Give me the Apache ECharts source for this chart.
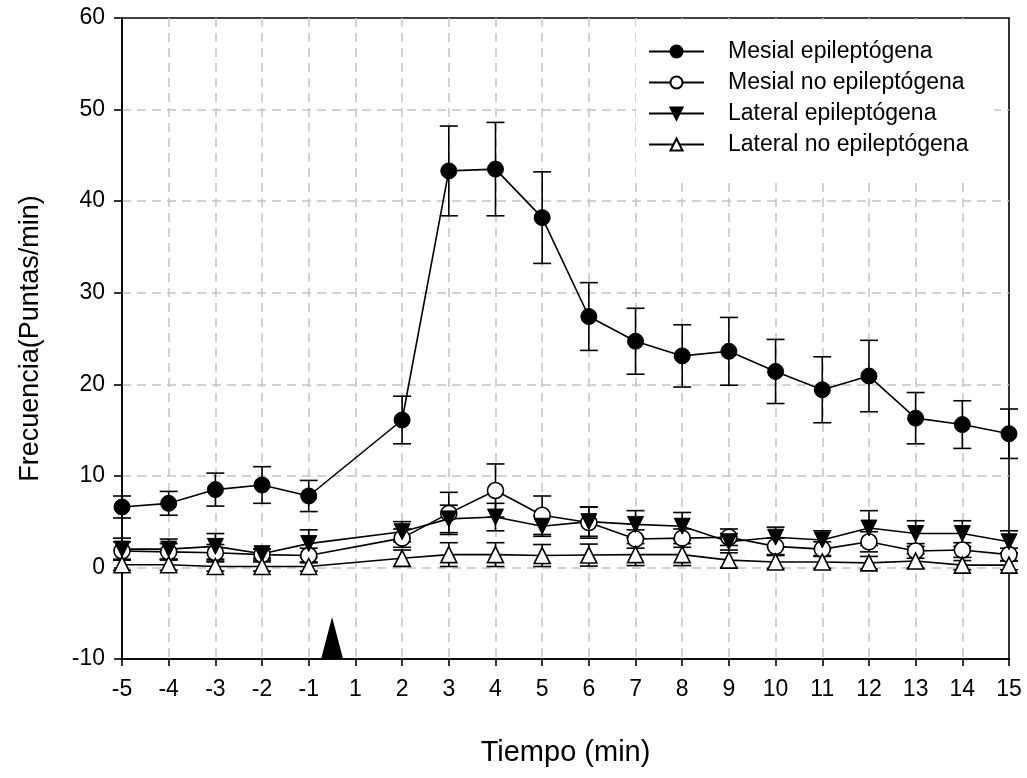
<!DOCTYPE html>
<html>
<head>
<meta charset="utf-8">
<script src="https://cdn.jsdelivr.net/npm/echarts@6/dist/echarts.min.js"></script>
<style>
html,body{margin:0;padding:0;background:#fff;}
#chart{width:1027px;height:778px;}
</style>
</head>
<body>
<div id="chart"></div>
<script>
// Axis tick labels (categorical time, note there is no 0)
const tickLabels = ['-5','-4','-3','-2','-1','1','2','3','4','5','6','7','8','9','10','11','12','13','14','15'];
// Time points with data (no sample at "1")
const times = ['-5','-4','-3','-2','-1','2','3','4','5','6','7','8','9','10','11','12','13','14','15'];
const yTicks = [-10, 0, 10, 20, 30, 40, 50, 60];

const mesialEpi    = [6.6, 7.0, 8.5, 9.0, 7.8, 16.1, 43.3, 43.5, 38.2, 27.4, 24.7, 23.1, 23.6, 21.4, 19.4, 20.9, 16.3, 15.6, 14.6];
const mesialEpiErr = [1.2, 1.3, 1.8, 2.0, 1.7, 2.6, 4.9, 5.1, 5.0, 3.7, 3.6, 3.4, 3.7, 3.5, 3.6, 3.9, 2.8, 2.6, 2.7];

const mesialNo     = [1.8, 1.7, 1.6, 1.4, 1.3, 3.2, 5.9, 8.4, 5.7, 4.9, 3.1, 3.2, 3.3, 2.3, 2.0, 2.8, 1.8, 1.9, 1.4];
const mesialNoErr  = [1.0, 0.9, 0.9, 0.6, 0.8, 1.0, 2.3, 2.9, 2.1, 1.7, 1.0, 1.0, 0.9, 0.9, 0.8, 1.1, 0.8, 0.8, 0.7];

const lateralEpi    = [2.0, 2.0, 2.3, 1.5, 2.6, 3.9, 5.3, 5.5, 4.5, 5.0, 4.7, 4.5, 2.8, 3.3, 3.0, 4.3, 3.7, 3.7, 2.8];
const lateralEpiErr = [1.2, 1.1, 1.4, 0.5, 1.5, 1.1, 1.5, 1.5, 1.1, 1.6, 1.5, 1.5, 0.9, 1.1, 1.0, 1.9, 1.4, 1.4, 1.2];

const lateralNo    = [0.3, 0.3, 0.1, 0.1, 0.1, 1.0, 1.4, 1.4, 1.3, 1.35, 1.4, 1.4, 0.8, 0.6, 0.6, 0.5, 0.7, 0.25, 0.25];
const lateralNoErr = [0.6, 0.6, 0.5, 0.5, 0.5, 0.9, 1.3, 1.3, 1.2, 1.2, 1.2, 1.2, 0.8, 0.7, 0.7, 0.7, 0.8, 0.5, 0.5];

// Stimulus marker: halfway between "-1" and "1", at the bottom of the y range
const stimulusBetween = ['-1', '1'];
const stimulusY = -10;

const seriesNames = ['Mesial epileptógena', 'Mesial no epileptógena', 'Lateral epileptógena', 'Lateral no epileptógena'];

const FONT = 'Liberation Sans, Arial, sans-serif';
const idx = t => tickLabels.indexOf(t);

function errSeries(means, errs) {
  return {
    type: 'custom',
    silent: true,
    clip: false,
    renderItem: function (params, api) {
      const x = api.value(0), y = api.value(1), e = api.value(2);
      const top = api.coord([x, y + e]);
      const bot = api.coord([x, y - e]);
      const w = 9;
      const st = { stroke: '#000', lineWidth: 1.6 };
      return {
        type: 'group',
        children: [
          { type: 'line', shape: { x1: top[0], y1: top[1], x2: bot[0], y2: bot[1] }, style: st },
          { type: 'line', shape: { x1: top[0] - w, y1: top[1], x2: top[0] + w, y2: top[1] }, style: st },
          { type: 'line', shape: { x1: bot[0] - w, y1: bot[1], x2: bot[0] + w, y2: bot[1] }, style: st }
        ]
      };
    },
    encode: { x: 0, y: 1 },
    data: times.map((t, i) => [idx(t), means[i], errs[i]])
  };
}

function lineSeries(name, means, symbol, filled, rotate) {
  return {
    type: 'line',
    name: name,
    symbol: symbol,
    symbolSize: 16,
    symbolRotate: rotate || 0,
    showAllSymbol: true,
    lineStyle: { color: '#000', width: 1.6 },
    itemStyle: filled ? { color: '#000', borderColor: '#000', borderWidth: 1 } : { color: '#fff', borderColor: '#000', borderWidth: 1.6 },
    emphasis: { disabled: true },
    data: times.map((t, i) => [idx(t), means[i]])
  };
}

const chart = echarts.init(document.getElementById('chart'), null, { renderer: 'canvas' });

const gridLine = { show: true, showMinLine: false, showMaxLine: false, lineStyle: { color: '#c4c4c4', width: 1.5, type: [9, 6] } };

const option = {
  animation: false,
  backgroundColor: '#fff',
  grid: { left: 122, right: 18, top: 18, bottom: 119, show: true, borderColor: '#000', borderWidth: 1.6, backgroundColor: 'transparent' },
  legend: {
    data: seriesNames,
    orient: 'vertical',
    left: 636,
    top: 20,
    backgroundColor: '#fff',
    padding: [20, 26, 22, 12],
    itemWidth: 55,
    itemHeight: 15,
    itemGap: 8,
    selectedMode: false,
    textStyle: { fontFamily: FONT, fontSize: 23, color: '#000', lineHeight: 23, padding: [0, 0, 0, 19] }
  },
  xAxis: {
    type: 'value',
    min: 0,
    max: tickLabels.length - 1,
    interval: 1,
    name: 'Tiempo (min)',
    nameLocation: 'middle',
    nameGap: 79,
    nameTextStyle: { fontFamily: FONT, fontSize: 29, color: '#000' },
    axisLine: { show: true, onZero: false, lineStyle: { color: '#000', width: 1.6 } },
    axisTick: { show: true, length: 7, lineStyle: { color: '#000', width: 1.6 } },
    axisLabel: { margin: 19, fontFamily: FONT, fontSize: 23, color: '#000', formatter: v => tickLabels[v] !== undefined ? tickLabels[v] : '' },
    splitLine: gridLine
  },
  yAxis: {
    type: 'value',
    min: yTicks[0],
    max: yTicks[yTicks.length - 1],
    interval: 10,
    name: 'Frecuencia(Puntas/min)',
    nameLocation: 'middle',
    nameGap: 78,
    nameTextStyle: { fontFamily: FONT, fontSize: 27, color: '#000' },
    axisLine: { show: true, onZero: false, lineStyle: { color: '#000', width: 1.6 } },
    axisTick: { show: true, length: 8, lineStyle: { color: '#000', width: 1.6 } },
    axisLabel: { margin: 17, fontFamily: FONT, fontSize: 23, color: '#000' },
    splitLine: gridLine
  },
  series: [
    errSeries(mesialEpi, mesialEpiErr),
    lineSeries(seriesNames[0], mesialEpi, 'circle', true),
    errSeries(mesialNo, mesialNoErr),
    lineSeries(seriesNames[1], mesialNo, 'circle', false),
    errSeries(lateralEpi, lateralEpiErr),
    lineSeries(seriesNames[2], lateralEpi, 'triangle', true, 180),
    errSeries(lateralNo, lateralNoErr),
    lineSeries(seriesNames[3], lateralNo, 'triangle', false),
    {
      type: 'scatter',
      silent: true,
      clip: false,
      symbol: 'triangle',
      symbolSize: [22, 42],
      symbolOffset: [0, '-50%'],
      itemStyle: { color: '#000', opacity: 1 },
      emphasis: { disabled: true },
      data: [[(idx(stimulusBetween[0]) + idx(stimulusBetween[1])) / 2, stimulusY]]
    }
  ]
};
chart.setOption(option);
</script>
</body>
</html>
